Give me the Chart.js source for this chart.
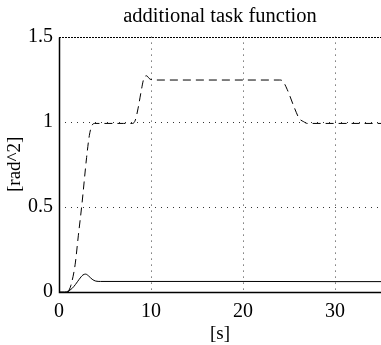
<!DOCTYPE html>
<html>
<head>
<meta charset="utf-8">
<script src="https://cdn.jsdelivr.net/npm/chart.js@4"></script>
<style>
  html, body { margin: 0; padding: 0; background: #fff; }
  #wrap { width: 381px; height: 345px; }
</style>
</head>
<body>
<div id="wrap"><canvas id="chart" width="381" height="345"></canvas></div>
<script>
// values
const xTicks = [0, 10, 20, 30];
const yTicks = [0, 0.5, 1, 1.5];

const tDashed = [1.0, 1.3, 1.75, 2.1, 2.5, 3.0, 3.3, 3.6, 3.9, 5, 7, 8.0, 8.3, 8.6, 8.9, 9.2, 9.5, 9.9, 10.6, 15, 20, 24.0, 24.3, 24.8, 25.6, 26.1, 26.6, 27.0, 30, 35];
const vDashed = [0, 0.04, 0.16, 0.33, 0.52, 0.79, 0.92, 0.98, 0.99, 0.99, 0.99, 0.99, 1.01, 1.08, 1.17, 1.25, 1.27, 1.25, 1.245, 1.245, 1.245, 1.245, 1.24, 1.19, 1.08, 1.02, 1.0, 0.99, 0.99, 0.99];

const tSolid = [0, 0.6, 1.0, 1.4, 1.8, 2.2, 2.6, 2.9, 3.2, 3.6, 4.0, 4.5, 10, 20, 30, 35];
const vSolid = [0, 0, 0.005, 0.02, 0.045, 0.075, 0.1, 0.105, 0.095, 0.075, 0.064, 0.062, 0.062, 0.062, 0.061, 0.061];

const serif = "'Liberation Serif', 'DejaVu Serif', serif";

const pts = (ts, vs) => ts.map((t, i) => ({ x: t, y: vs[i] }));

// dotted grid + axes, positioned through the scales
const gridPlugin = {
    id: "matlabGrid",
    beforeDatasetsDraw(chart) {
        const { ctx, chartArea: a, scales: { x, y } } = chart;
        ctx.save();
        ctx.lineWidth = 1;
        ctx.strokeStyle = "#333";
        ctx.setLineDash([1, 5]);
        xTicks.slice(1).forEach(v => {
            const px = Math.round(x.getPixelForValue(v)) + 0.5;
            ctx.beginPath();
            ctx.moveTo(px, a.top);
            ctx.lineTo(px, a.bottom);
            ctx.stroke();
        });
        yTicks.slice(1, -1).forEach(v => {
            const py = Math.round(y.getPixelForValue(v)) + 0.5;
            ctx.beginPath();
            ctx.moveTo(a.left, py);
            ctx.lineTo(a.right, py);
            ctx.stroke();
        });
        // top edge
        ctx.strokeStyle = "#000";
        ctx.setLineDash([2, 1]);
        const top = Math.round(y.getPixelForValue(yTicks[yTicks.length - 1])) + 0.5;
        ctx.beginPath();
        ctx.moveTo(a.left, top);
        ctx.lineTo(a.right, top);
        ctx.stroke();
        // left and bottom axes
        ctx.setLineDash([]);
        ctx.lineWidth = 1.5;
        const bottom = Math.round(y.getPixelForValue(0)) + 0.5;
        const left = Math.round(x.getPixelForValue(0)) + 0.5;
        ctx.beginPath();
        ctx.moveTo(left, top);
        ctx.lineTo(left, bottom);
        ctx.lineTo(a.right, bottom);
        ctx.stroke();
        ctx.restore();
    }
};

new Chart(document.getElementById("chart"), {
    type: "line",
    data: {
        datasets: [
            {
                data: pts(tDashed, vDashed),
                borderColor: "#000",
                borderWidth: 1,
                borderDash: [8, 5],
                pointRadius: 0,
                cubicInterpolationMode: "monotone"
            },
            {
                data: pts(tSolid, vSolid),
                borderColor: "#000",
                borderWidth: 1,
                pointRadius: 0,
                cubicInterpolationMode: "monotone"
            }
        ]
    },
    options: {
        responsive: false,
        animation: false,
        layout: { padding: 0 },
        plugins: {
            legend: { display: false },
            tooltip: { enabled: false },
            title: {
                display: true,
                fullSize: false,
                text: "additional task function",
                color: "#000",
                font: { family: serif, size: 20.5, weight: "normal" },
                padding: { top: 4, bottom: 8 }
            }
        },
        scales: {
            x: {
                type: "linear",
                min: 0,
                max: 35,
                grid: { display: false, drawTicks: false },
                border: { display: false },
                afterBuildTicks: s => { s.ticks = xTicks.map(v => ({ value: v })); },
                afterFit: s => { s.height = 53; },
                ticks: {
                    color: "#000",
                    padding: 8,
                    maxRotation: 0,
                    font: { family: serif, size: 20 },
                    callback: v => String(v)
                },
                title: {
                    display: true,
                    text: "[s]",
                    color: "#000",
                    font: { family: serif, size: 19 },
                    padding: { top: 0, bottom: 0 }
                }
            },
            y: {
                min: 0,
                max: 1.5,
                grid: { display: false, drawTicks: false },
                border: { display: false },
                afterBuildTicks: s => { s.ticks = yTicks.map(v => ({ value: v })); },
                afterFit: s => { s.width = 59; },
                ticks: {
                    color: "#000",
                    padding: 6,
                    font: { family: serif, size: 20 },
                    callback: v => String(v)
                },
                title: {
                    display: true,
                    text: "[rad^2]",
                    color: "#000",
                    font: { family: serif, size: 19 },
                    padding: { top: 4, bottom: 0 }
                }
            }
        }
    },
    plugins: [gridPlugin]
});
</script>
</body>
</html>
